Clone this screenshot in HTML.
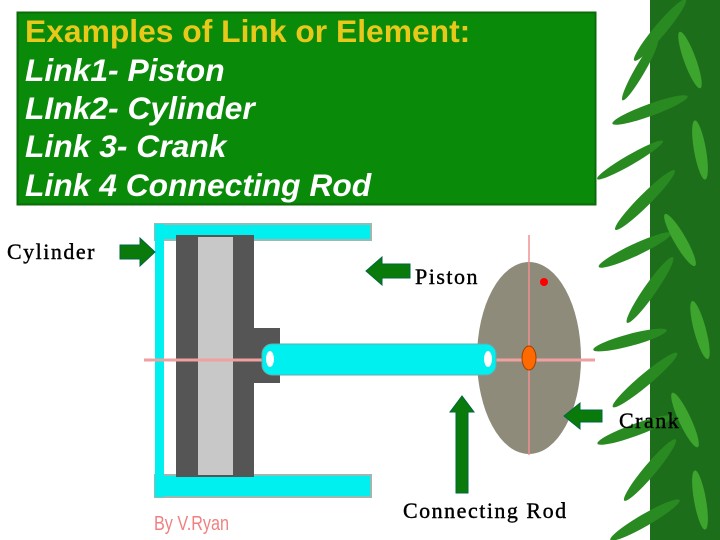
<!DOCTYPE html>
<html><head><meta charset="utf-8"><style>
html,body{margin:0;padding:0;background:#fff;width:720px;height:540px;overflow:hidden}
.t{position:absolute;left:25px;font:bold 31.8px "Liberation Sans",sans-serif;color:#fff;font-style:italic;white-space:nowrap}
.s{position:absolute;font:22px "Liberation Serif",serif;letter-spacing:1.5px;color:#000;white-space:nowrap;-webkit-text-stroke:0.4px #000}
</style></head><body>
<svg width="720" height="540" style="position:absolute;left:0;top:0">
<g>
<rect x="650" y="0" width="70" height="540" fill="#1d6e1a"/>
<g fill="#2a8a22">
<ellipse cx="660" cy="30" rx="40" ry="6" transform="rotate(-50 660 30)"/>
<ellipse cx="640" cy="70" rx="35" ry="5" transform="rotate(-60 640 70)"/>
<ellipse cx="650" cy="110" rx="40" ry="6" transform="rotate(-20 650 110)"/>
<ellipse cx="630" cy="160" rx="38" ry="5" transform="rotate(-30 630 160)"/>
<ellipse cx="645" cy="200" rx="42" ry="6" transform="rotate(-45 645 200)"/>
<ellipse cx="635" cy="250" rx="40" ry="6" transform="rotate(-25 635 250)"/>
<ellipse cx="650" cy="290" rx="40" ry="6" transform="rotate(-55 650 290)"/>
<ellipse cx="630" cy="340" rx="38" ry="6" transform="rotate(-15 630 340)"/>
<ellipse cx="645" cy="380" rx="42" ry="6" transform="rotate(-40 645 380)"/>
<ellipse cx="635" cy="430" rx="40" ry="6" transform="rotate(-20 635 430)"/>
<ellipse cx="650" cy="470" rx="40" ry="6" transform="rotate(-50 650 470)"/>
<ellipse cx="645" cy="520" rx="40" ry="6" transform="rotate(-30 645 520)"/>
</g>
<g fill="#3da52e">
<ellipse cx="690" cy="60" rx="30" ry="6" transform="rotate(70 690 60)"/>
<ellipse cx="700" cy="150" rx="30" ry="6" transform="rotate(80 700 150)"/>
<ellipse cx="680" cy="240" rx="30" ry="6" transform="rotate(60 680 240)"/>
<ellipse cx="700" cy="330" rx="30" ry="6" transform="rotate(75 700 330)"/>
<ellipse cx="685" cy="420" rx="30" ry="6" transform="rotate(65 685 420)"/>
<ellipse cx="700" cy="500" rx="30" ry="6" transform="rotate(80 700 500)"/>
</g>
</g>
<rect x="17.5" y="12.5" width="578" height="192" fill="#098a09" stroke="#0b6b0b" stroke-width="2"/>
<g stroke="#9cb8b0" stroke-width="2">
<rect x="155" y="224" width="216" height="16" fill="#00f0f0"/>
<rect x="155" y="475" width="216" height="22" fill="#00f0f0"/>
<rect x="155" y="224" width="9" height="273" fill="#00f0f0" stroke="none"/>
</g>
<rect x="176" y="235" width="78" height="242" fill="#555"/>
<rect x="198" y="237" width="35" height="238" fill="#c8c8c8"/>
<rect x="253" y="328" width="27" height="55" fill="#555"/>
<line x1="144" y1="360" x2="595" y2="360" stroke="#f0a0a0" stroke-width="3"/>
<ellipse cx="529" cy="358" rx="52" ry="96" fill="#8f8b7a"/>
<line x1="529" y1="235" x2="529" y2="455" stroke="#f09090" stroke-width="1.5"/>
<line x1="478" y1="360" x2="595" y2="360" stroke="#f0a0a0" stroke-width="3"/>
<rect x="262" y="344" width="234" height="31" rx="10" fill="#00f0f0" stroke="#6aa" stroke-width="1"/>
<ellipse cx="270" cy="359" rx="4" ry="8" fill="#fff"/>
<ellipse cx="488" cy="359" rx="4" ry="8" fill="#fff"/>
<ellipse cx="529" cy="358" rx="7" ry="12" fill="#ff6a00" stroke="#a04000"/>
<circle cx="544" cy="282" r="4" fill="#f00"/>
<text x="154" y="530" font-family="Liberation Sans Narrow,Liberation Sans,sans-serif" font-size="20" fill="#f08080" textLength="75" lengthAdjust="spacingAndGlyphs">By V.Ryan</text>
<g fill="#0a7a0a" stroke="#064" stroke-width="1">
<polygon points="120,245 140,245 140,238 155,252 140,266 140,259 120,259"/>
<polygon points="410,264 382,264 382,257 366,271 382,285 382,278 410,278"/>
<polygon points="456,493 456,412 450,412 462,396 474,412 468,412 468,493"/>
<polygon points="602,410 580,410 580,403 564,416 580,429 580,422 602,422"/>
</g>
</svg>
<div class="t" style="top:13px;font-style:normal;color:#e8c81a">Examples of Link or Element:</div>
<div class="t" style="top:52px">Link1- Piston</div>
<div class="t" style="top:90px">LInk2- Cylinder</div>
<div class="t" style="top:128px">Link 3- Crank</div>
<div class="t" style="top:167px">Link 4 Connecting Rod</div>
<div class="s" style="left:7px;top:239px">Cylinder</div>
<div class="s" style="left:415px;top:264px">Piston</div>
<div class="s" style="left:619px;top:408px">Crank</div>
<div class="s" style="left:403px;top:498px">Connecting Rod</div>
</body></html>
